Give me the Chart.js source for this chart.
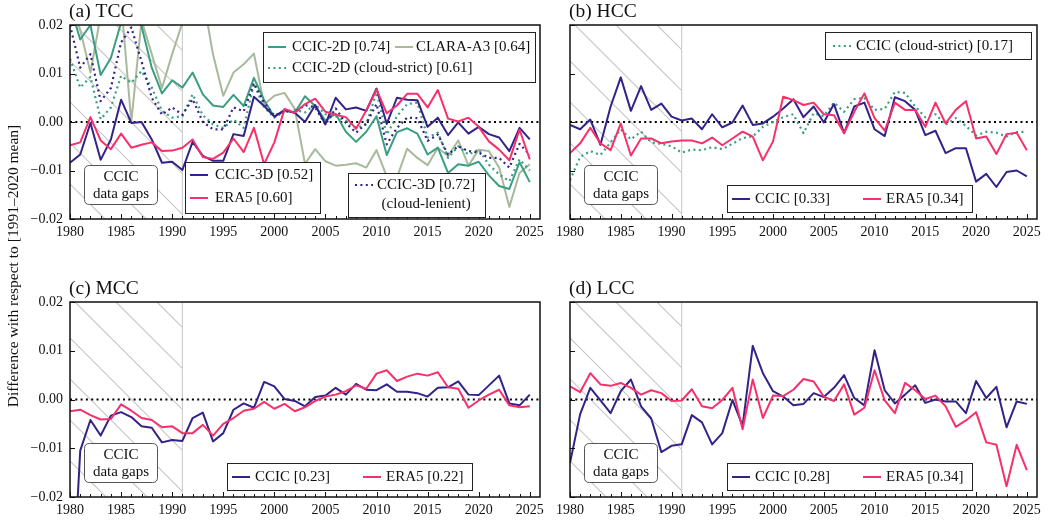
<!DOCTYPE html>
<html>
<head>
<meta charset="utf-8">
<script src="https://cdn.jsdelivr.net/npm/chart.js@4.4.1/dist/chart.umd.min.js"></script>
<style>
  body { margin: 0; background: #fff; }
  #wrap { position: relative; width: 1046px; height: 520px; }
  #wrap canvas { position: absolute; left: 0; top: 0; }
</style>
</head>
<body>
<div id="wrap">
  <canvas id="cA" width="1046" height="520"></canvas>
  <canvas id="cB" width="1046" height="520"></canvas>
  <canvas id="cC" width="1046" height="520"></canvas>
  <canvas id="cD" width="1046" height="520"></canvas>
</div>
<script>
// Jahre (x-Achse) und Achsenticks
const years = [1980, 1981, 1982, 1983, 1984, 1985, 1986, 1987, 1988, 1989,
               1990, 1991, 1992, 1993, 1994, 1995, 1996, 1997, 1998, 1999,
               2000, 2001, 2002, 2003, 2004, 2005, 2006, 2007, 2008, 2009,
               2010, 2011, 2012, 2013, 2014, 2015, 2016, 2017, 2018, 2019,
               2020, 2021, 2022, 2023, 2024, 2025];
const xTicks = [1980, 1985, 1990, 1995, 2000, 2005, 2010, 2015, 2020, 2025];
const yTicks = [-0.02, -0.01, 0.00, 0.01, 0.02];
const gapEnd = 1991; // Ende der CCIC-Datenluecken
const axisTitle = 'Difference with respect to [1991\u20132020 mean]';

// (a) TCC
const tcc3d = [-0.0084, -0.0067, -0.0002, -0.0078, -0.0036, 0.0046, -0.0002, 0.0000, -0.0036, -0.0084,
               -0.0082, -0.0099, -0.0041, -0.0070, -0.0080, -0.0080, -0.0025, -0.0029, 0.0052, 0.0033,
               0.0011, 0.0024, 0.0019, 0.0000, 0.0035, -0.0005, 0.0050, 0.0026, 0.0030, 0.0023,
               0.0069, -0.0004, 0.0050, 0.0046, 0.0045, -0.0010, 0.0009, -0.0027, -0.0001, -0.0024,
               -0.0010, -0.0025, -0.0032, -0.0060, -0.0012, -0.0036];
const tccEra5 = [-0.0048, -0.0042, 0.0010, -0.0038, -0.0056, -0.0024, -0.0053, -0.0047, -0.0042, -0.0060,
                 -0.0059, -0.0053, -0.0036, -0.0072, -0.0076, -0.0063, -0.0034, -0.0062, -0.0012, -0.0087,
                 -0.0042, 0.0027, 0.0019, 0.0037, 0.0048, 0.0021, 0.0015, 0.0010, -0.0014, 0.0024,
                 0.0067, 0.0018, 0.0034, 0.0058, 0.0058, 0.0030, 0.0066, 0.0007, 0.0001, 0.0009,
                 -0.0010, -0.0040, -0.0057, -0.0079, -0.0016, -0.0077];
const tcc2d = [0.0240, 0.0170, 0.0200, 0.0097, 0.0132, 0.0205, 0.0260, 0.0198, 0.0112, 0.0059,
               0.0086, 0.0071, 0.0102, 0.0057, 0.0034, 0.0031, 0.0056, 0.0033, 0.0091, 0.0045,
               0.0011, 0.0025, 0.0019, 0.0053, 0.0033, 0.0003, 0.0017, -0.0020, -0.0041, -0.0020,
               0.0012, -0.0068, -0.0021, -0.0013, -0.0024, -0.0067, -0.0053, -0.0105, -0.0087, -0.0090,
               -0.0082, -0.0110, -0.0132, -0.0138, -0.0083, -0.0124];
const tccClara = [0.0260, 0.0190, 0.0102, 0.0220, 0.0260, 0.0250, 0.0000, 0.0210, 0.0140, 0.0070,
                  0.0140, 0.0205, 0.0260, 0.0260, 0.0139, 0.0054, 0.0102, 0.0119, 0.0141, 0.0036,
                  0.0054, 0.0060, 0.0027, -0.0086, -0.0056, -0.0081, -0.0090, -0.0088, -0.0085, -0.0094,
                  -0.0058, -0.0112, -0.0114, -0.0055, -0.0074, -0.0089, -0.0053, -0.0070, -0.0038, -0.0090,
                  -0.0057, -0.0060, -0.0094, -0.0175, -0.0105, -0.0087];
const tcc2dStrict = [0.0130, 0.0071, 0.0093, 0.0006, 0.0030, 0.0095, 0.0081, 0.0105, 0.0071, 0.0023,
                     0.0009, 0.0012, 0.0057, 0.0014, -0.0005, -0.0012, 0.0005, -0.0012, 0.0079, 0.0030,
                     0.0009, 0.0022, 0.0025, 0.0020, 0.0036, 0.0016, 0.0012, 0.0002, -0.0012, -0.0005,
                     0.0061, -0.0026, 0.0012, 0.0037, 0.0040, -0.0032, -0.0022, -0.0074, -0.0050, -0.0067,
                     -0.0057, -0.0088, -0.0108, -0.0122, -0.0077, -0.0100];
const tcc3dLenient = [0.0200, 0.0112, 0.0140, 0.0043, 0.0070, 0.0164, 0.0195, 0.0125, 0.0050, 0.0015,
                      0.0030, 0.0015, 0.0047, 0.0000, -0.0015, -0.0015, 0.0030, 0.0022, 0.0080, 0.0040,
                      0.0013, 0.0022, 0.0020, 0.0035, 0.0030, -0.0005, 0.0028, -0.0002, -0.0022, -0.0003,
                      0.0037, -0.0046, -0.0012, 0.0009, 0.0008, -0.0039, -0.0026, -0.0067, -0.0050, -0.0060,
                      -0.0063, -0.0074, -0.0074, -0.0094, -0.0045, -0.0068];

// (b) HCC
const hccCcic = [-0.0006, -0.0015, 0.0005, -0.0047, 0.0032, 0.0092, 0.0023, 0.0074, 0.0025, 0.0038,
                 0.0011, 0.0003, 0.0007, -0.0015, 0.0016, -0.0011, -0.0001, 0.0034, -0.0006, -0.0003,
                 0.0011, 0.0028, 0.0047, 0.0010, 0.0032, -0.0001, 0.0037, -0.0023, 0.0032, 0.0040,
                 -0.0015, -0.0029, 0.0051, 0.0043, 0.0025, -0.0027, -0.0018, -0.0064, -0.0054, -0.0054,
                 -0.0123, -0.0107, -0.0134, -0.0103, -0.0100, -0.0112];
const hccEra5 = [-0.0064, -0.0044, -0.0012, -0.0044, -0.0058, -0.0003, -0.0069, -0.0034, -0.0034, -0.0044,
                 -0.0040, -0.0038, -0.0038, -0.0044, -0.0032, -0.0048, -0.0034, -0.0020, -0.0030, -0.0079,
                 -0.0040, 0.0052, 0.0045, 0.0035, 0.0040, 0.0016, 0.0014, -0.0023, 0.0021, 0.0059,
                 0.0008, -0.0018, 0.0040, 0.0025, 0.0025, -0.0010, 0.0040, -0.0003, 0.0025, 0.0043,
                 -0.0034, -0.0030, -0.0066, -0.0025, -0.0022, -0.0058];
const hccStrict = [-0.0120, -0.0072, -0.0060, -0.0068, -0.0042, -0.0015, -0.0036, -0.0020, -0.0042, -0.0045,
                   -0.0050, -0.0063, -0.0057, -0.0058, -0.0052, -0.0056, -0.0045, -0.0033, -0.0030, -0.0010,
                   0.0000, 0.0010, 0.0016, -0.0023, 0.0018, 0.0012, 0.0040, 0.0021, 0.0047, 0.0050,
                   0.0025, 0.0027, 0.0062, 0.0060, 0.0032, 0.0010, 0.0016, -0.0006, 0.0008, -0.0008,
                   -0.0028, -0.0020, -0.0022, -0.0030, -0.0021, -0.0020];

// (c) MCC
const mccCcic = [-0.0500, -0.0105, -0.0042, -0.0074, -0.0033, -0.0026, -0.0036, -0.0055, -0.0058, -0.0088,
                 -0.0083, -0.0085, -0.0038, -0.0027, -0.0086, -0.0069, -0.0021, -0.0008, -0.0017, 0.0036,
                 0.0027, 0.0001, -0.0003, -0.0014, 0.0005, 0.0008, 0.0024, 0.0010, 0.0032, 0.0020,
                 0.0019, 0.0031, 0.0016, 0.0016, 0.0013, 0.0006, 0.0024, 0.0025, 0.0037, 0.0010,
                 0.0009, 0.0029, 0.0049, -0.0008, -0.0012, 0.0010];
const mccEra5 = [-0.0024, -0.0021, -0.0032, -0.0041, -0.0040, -0.0010, -0.0023, -0.0038, -0.0042, -0.0057,
                 -0.0055, -0.0069, -0.0069, -0.0052, -0.0074, -0.0050, -0.0038, -0.0023, -0.0019, -0.0005,
                 -0.0019, -0.0009, -0.0024, -0.0016, -0.0003, 0.0006, 0.0010, 0.0017, 0.0029, 0.0022,
                 0.0053, 0.0060, 0.0038, 0.0047, 0.0053, 0.0049, 0.0056, 0.0025, 0.0022, -0.0017,
                 -0.0002, 0.0010, 0.0020, -0.0012, -0.0016, -0.0014];

// (d) LCC
const lccCcic = [-0.0130, -0.0030, 0.0024, -0.0002, -0.0028, 0.0017, 0.0041, -0.0014, -0.0039, -0.0108,
                 -0.0095, -0.0092, -0.0032, -0.0047, -0.0092, -0.0069, -0.0001, -0.0054, 0.0110, 0.0054,
                 0.0017, 0.0006, -0.0012, -0.0009, 0.0013, 0.0005, 0.0024, 0.0050, 0.0003, -0.0012,
                 0.0101, 0.0019, -0.0008, 0.0010, 0.0029, -0.0007, 0.0000, -0.0004, -0.0004, -0.0028,
                 0.0038, 0.0003, 0.0026, -0.0057, -0.0004, -0.0009];
const lccEra5 = [0.0027, 0.0015, 0.0054, 0.0031, 0.0028, 0.0034, 0.0024, 0.0010, 0.0019, 0.0013,
                 -0.0003, -0.0002, 0.0021, -0.0014, -0.0018, -0.0001, 0.0024, -0.0061, 0.0041, -0.0038,
                 0.0008, 0.0007, 0.0020, 0.0042, 0.0037, 0.0006, -0.0003, 0.0031, -0.0031, -0.0017,
                 0.0060, -0.0002, -0.0028, 0.0034, 0.0019, 0.0001, 0.0008, -0.0014, -0.0056, -0.0043,
                 -0.0026, -0.0088, -0.0093, -0.0178, -0.0093, -0.0145];

// Stil
const FONT = '"Liberation Serif", "Times New Roman", serif';
const C_CCIC = '#332288';
const C_ERA = '#f7306b';
const C_2D = '#3a9e80';
const C_CLARA = '#a9b99c';

function serie(label, vals, color, dotted) {
  return {
    label,
    data: vals.map((v, i) => ({ x: years[i], y: v })),
    borderColor: color,
    borderWidth: dotted ? 2.2 : 2,
    borderDash: dotted ? [2, 3.4] : [],
    borderCapStyle: 'butt',
    borderJoinStyle: 'round',
    pointRadius: 0,
    fill: false,
    tension: 0,
    clip: 0
  };
}

function roundRect(ctx, x, y, w, h, r) {
  ctx.beginPath();
  ctx.moveTo(x + r, y);
  ctx.lineTo(x + w - r, y); ctx.quadraticCurveTo(x + w, y, x + w, y + r);
  ctx.lineTo(x + w, y + h - r); ctx.quadraticCurveTo(x + w, y + h, x + w - r, y + h);
  ctx.lineTo(x + r, y + h); ctx.quadraticCurveTo(x, y + h, x, y + h - r);
  ctx.lineTo(x, y + r); ctx.quadraticCurveTo(x, y, x + r, y);
  ctx.closePath();
}

// Zeichnet Schraffur, Nulllinie, Rahmen, Ticks, Legenden und Titel
function decor(spec) {
  return {
    id: 'decor',
    beforeDatasetsDraw(chart) {
      const { ctx, chartArea: a, scales: { x, y } } = chart;
      const xg = x.getPixelForValue(gapEnd);
      const h = a.bottom - a.top;
      ctx.save();
      ctx.beginPath();
      ctx.rect(a.left, a.top, xg - a.left, h);
      ctx.clip();
      ctx.strokeStyle = '#c6c6c6';
      ctx.lineWidth = 1.1;
      for (let s = a.left + spec.hatch - 41 * 6; s < xg; s += 41) {
        ctx.beginPath(); ctx.moveTo(s, a.top); ctx.lineTo(s + h, a.bottom); ctx.stroke();
      }
      ctx.restore();
      ctx.save();
      ctx.strokeStyle = '#cfcfcf';
      ctx.lineWidth = 1.2;
      ctx.beginPath(); ctx.moveTo(xg, a.top); ctx.lineTo(xg, a.bottom); ctx.stroke();
      const y0 = y.getPixelForValue(0);
      ctx.strokeStyle = '#000';
      ctx.lineWidth = 2;
      ctx.setLineDash([2, 3.3]);
      ctx.beginPath(); ctx.moveTo(a.left, y0); ctx.lineTo(a.right, y0); ctx.stroke();
      ctx.restore();
    },
    afterDatasetsDraw(chart) {
      const { ctx, chartArea: a, scales: { x, y } } = chart;
      const L = a.left, T = a.top;
      ctx.save();
      // Ticks nach innen
      ctx.strokeStyle = '#111';
      ctx.lineWidth = 1;
      years.forEach(yr => {
        const px = Math.round(x.getPixelForValue(yr)) + 0.5;
        const len = yr % 5 === 0 ? 5 : 3;
        ctx.beginPath(); ctx.moveTo(px, a.bottom); ctx.lineTo(px, a.bottom - len); ctx.stroke();
      });
      yTicks.forEach(v => {
        const py = Math.round(y.getPixelForValue(v)) + 0.5;
        ctx.beginPath(); ctx.moveTo(a.left, py); ctx.lineTo(a.left + 5, py); ctx.stroke();
      });
      // Rahmen
      ctx.lineWidth = 1.5;
      ctx.strokeRect(a.left, a.top, a.right - a.left, a.bottom - a.top);

      // Kasten "CCIC data gaps"
      roundRect(ctx, L + 14.5, a.bottom - 53.5, 73, 39, 5);
      ctx.fillStyle = 'rgba(255,255,255,0.92)';
      ctx.fill();
      ctx.strokeStyle = '#555';
      ctx.lineWidth = 1;
      ctx.stroke();
      ctx.fillStyle = '#111';
      ctx.font = '15px ' + FONT;
      ctx.textAlign = 'center';
      ctx.textBaseline = 'middle';
      ctx.fillText('CCIC', L + 51, a.bottom - 42);
      ctx.fillText('data gaps', L + 51, a.bottom - 25);

      // Legenden
      spec.legends.forEach(lg => {
        const [bx, by, bw, bh] = lg.box;
        ctx.fillStyle = '#fff';
        ctx.fillRect(L + bx, T + by, bw, bh);
        ctx.strokeStyle = '#222';
        ctx.lineWidth = 1;
        ctx.strokeRect(L + bx + 0.5, T + by + 0.5, bw, bh);
        lg.items.forEach(it => {
          const ds = chart.data.datasets[it.ds];
          ctx.save();
          ctx.strokeStyle = ds.borderColor;
          ctx.lineWidth = ds.borderWidth;
          ctx.setLineDash(ds.borderDash);
          ctx.beginPath();
          ctx.moveTo(L + it.sx, T + it.sy);
          ctx.lineTo(L + it.sx + 18, T + it.sy);
          ctx.stroke();
          ctx.restore();
          ctx.fillStyle = '#111';
          ctx.font = '15px ' + FONT;
          ctx.textBaseline = 'middle';
          const lines = ds.label.split('\n');
          ctx.textAlign = 'left';
          ctx.fillText(lines[0], L + it.tx, T + it.sy);
          if (lines[1]) {
            const w0 = ctx.measureText(lines[0]).width;
            ctx.textAlign = 'center';
            ctx.fillText(lines[1], L + it.tx + w0 / 2, T + it.sy + 19);
          }
        });
      });

      // Panel-Titel
      ctx.fillStyle = '#111';
      ctx.font = '19.5px ' + FONT;
      ctx.textAlign = 'left';
      ctx.textBaseline = 'alphabetic';
      ctx.fillText(spec.title, L - 1, T - 8);

      // gemeinsamer y-Titel
      if (spec.yTitle) {
        ctx.translate(14, 266);
        ctx.rotate(-Math.PI / 2);
        ctx.font = '15.5px ' + FONT;
        ctx.textAlign = 'center';
        ctx.textBaseline = 'middle';
        ctx.fillText(axisTitle, 0, 0);
      }
      ctx.restore();
    }
  };
}

function makePanel(id, area, showY, datasets, spec) {
  const yW = 48, xH = 24;
  new Chart(document.getElementById(id), {
    type: 'line',
    data: { datasets },
    options: {
      animation: false,
      responsive: false,
      events: [],
      layout: { padding: { left: area.l - yW, top: area.t, right: 1046 - area.r, bottom: 520 - area.b - xH } },
      plugins: { legend: { display: false }, tooltip: { enabled: false } },
      scales: {
        x: {
          type: 'linear', min: 1980, max: 2026,
          afterBuildTicks: s => { s.ticks = xTicks.map(v => ({ value: v })); },
          afterFit: s => { s.height = xH; },
          grid: { display: false, drawTicks: false },
          border: { display: false },
          ticks: { color: '#111', font: { family: FONT, size: 14 }, padding: 5, maxRotation: 0, autoSkip: false, callback: v => String(v) }
        },
        y: {
          type: 'linear', min: -0.02, max: 0.02,
          afterBuildTicks: s => { s.ticks = yTicks.map(v => ({ value: v })); },
          afterFit: s => { s.width = yW; },
          grid: { display: false, drawTicks: false },
          border: { display: false },
          ticks: {
            display: showY, color: '#111', font: { family: FONT, size: 14 }, padding: 7, autoSkip: false,
            callback: v => (v < 0 ? '\u2212' : '') + Math.abs(v).toFixed(2)
          }
        }
      }
    },
    plugins: [decor(spec)]
  });
}

// (a) TCC  -- Reihenfolge: erster Datensatz liegt oben
makePanel('cA', { l: 70, t: 25, r: 540, b: 219 }, true, [
  serie('ERA5 [0.60]', tccEra5, C_ERA, false),
  serie('CCIC-3D [0.52]', tcc3d, C_CCIC, false),
  serie('CCIC-3D [0.72]\n(cloud-lenient)', tcc3dLenient, C_CCIC, true),
  serie('CCIC-2D (cloud-strict) [0.61]', tcc2dStrict, C_2D, true),
  serie('CCIC-2D [0.74]', tcc2d, C_2D, false),
  serie('CLARA-A3 [0.64]', tccClara, C_CLARA, false)
], {
  title: '(a) TCC', yTitle: true, hatch: 5,
  legends: [
    { box: [193, 7, 272, 50], items: [{ ds: 4, sx: 198, sy: 22, tx: 222 }, { ds: 5, sx: 325, sy: 22, tx: 346 }, { ds: 3, sx: 198, sy: 43, tx: 222 }] },
    { box: [115, 137, 135, 51], items: [{ ds: 1, sx: 120, sy: 150, tx: 145 }, { ds: 0, sx: 120, sy: 173, tx: 145 }] },
    { box: [278, 148, 137, 44], items: [{ ds: 2, sx: 285, sy: 160, tx: 307 }] }
  ]
});

// (b) HCC
makePanel('cB', { l: 570, t: 25, r: 1039, b: 219 }, false, [
  serie('ERA5 [0.34]', hccEra5, C_ERA, false),
  serie('CCIC [0.33]', hccCcic, C_CCIC, false),
  serie('CCIC (cloud-strict) [0.17]', hccStrict, C_2D, true)
], {
  title: '(b) HCC', yTitle: false, hatch: 5,
  legends: [
    { box: [255, 7, 206, 27], items: [{ ds: 2, sx: 263, sy: 21, tx: 286 }] },
    { box: [157, 160, 245, 27], items: [{ ds: 1, sx: 162, sy: 174, tx: 185 }, { ds: 0, sx: 293, sy: 174, tx: 316 }] }
  ]
});

// (c) MCC
makePanel('cC', { l: 70, t: 302, r: 540, b: 497 }, true, [
  serie('ERA5 [0.22]', mccEra5, C_ERA, false),
  serie('CCIC [0.23]', mccCcic, C_CCIC, false)
], {
  title: '(c) MCC', yTitle: false, hatch: 5,
  legends: [
    { box: [157, 161, 245, 27], items: [{ ds: 1, sx: 162, sy: 175, tx: 185 }, { ds: 0, sx: 293, sy: 175, tx: 316 }] }
  ]
});

// (d) LCC
makePanel('cD', { l: 570, t: 302, r: 1039, b: 497 }, false, [
  serie('ERA5 [0.34]', lccEra5, C_ERA, false),
  serie('CCIC [0.28]', lccCcic, C_CCIC, false)
], {
  title: '(d) LCC', yTitle: false, hatch: 5,
  legends: [
    { box: [157, 161, 245, 27], items: [{ ds: 1, sx: 162, sy: 175, tx: 185 }, { ds: 0, sx: 293, sy: 175, tx: 316 }] }
  ]
});
</script>
</body>
</html>
